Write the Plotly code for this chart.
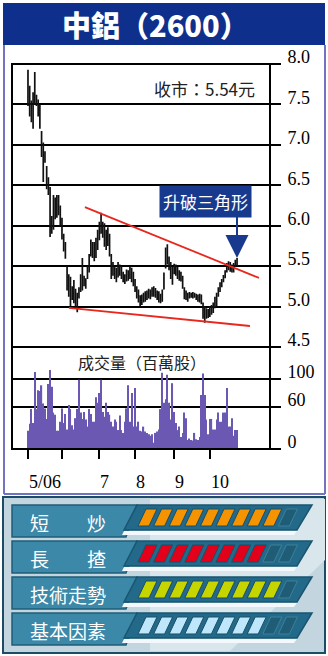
import plotly.graph_objects as go

W, H = 328, 656

# ---------------- data ----------------
title = "中鋁（2600）"
close_note = "收市：5.54元"
vol_note = "成交量（百萬股）"
callout = "升破三角形"

opens = [7.80,7.60,7.45,7.35,7.60,7.60,7.55,7.40,7.10,6.95,
         6.88,6.70,6.55,6.40,5.95,6.00,6.30,6.20,6.30,6.20,
         6.05,5.88,5.75,5.45,5.30,5.20,5.12,5.18,5.20,5.02,
         5.12,5.22,5.50,5.30,5.30,5.36,5.45,5.65,5.75,5.72,
         5.65,5.78,5.85,5.95,6.00,5.95,5.78,5.88,5.85,5.62,
         5.45,5.48,5.38,5.40,5.48,5.45,5.40,5.36,5.34,5.42,
         5.38,5.45,5.40,5.30,5.22,5.15,5.10,5.05,5.12,5.10,
         5.15,5.12,5.18,5.15,5.22,5.18,5.15,5.14,5.08,5.10,
         5.22,5.50,5.68,5.60,5.52,5.38,5.42,5.48,5.46,5.42,
         5.36,5.36,5.22,5.12,5.15,5.12,5.14,5.15,5.13,5.14,
         5.12,5.08,5.12,5.02,4.92,4.88,4.95,4.90,4.94,4.96,
         5.00,5.06,5.14,5.20,5.26,5.32,5.38,5.44,5.50,5.48,
         5.46,5.48,5.52,5.55]
highs = [7.93,7.73,7.55,7.65,7.90,7.62,7.56,7.50,7.17,7.03,
         6.92,6.74,6.60,6.48,6.12,6.38,6.35,6.38,6.38,6.25,
         6.10,5.90,5.80,5.50,5.40,5.37,5.25,5.33,5.22,5.17,
         5.24,5.40,5.60,5.38,5.35,5.50,5.65,5.83,5.80,5.80,
         5.85,5.95,6.05,6.16,6.05,6.03,5.95,5.98,5.90,5.65,
         5.55,5.50,5.48,5.55,5.52,5.50,5.43,5.40,5.46,5.45,
         5.50,5.48,5.43,5.34,5.25,5.21,5.14,5.15,5.17,5.19,
         5.20,5.22,5.21,5.24,5.25,5.23,5.20,5.19,5.16,5.21,
         5.42,5.73,5.77,5.62,5.55,5.49,5.53,5.52,5.49,5.45,
         5.43,5.38,5.24,5.20,5.17,5.18,5.17,5.18,5.17,5.16,
         5.15,5.16,5.15,5.05,5.00,4.98,4.97,5.00,5.02,5.05,
         5.12,5.17,5.24,5.30,5.34,5.39,5.45,5.54,5.56,5.55,
         5.52,5.54,5.58,5.60]
lows = [7.48,7.35,7.28,7.20,7.50,7.48,7.35,7.20,6.85,6.54,
        6.78,6.45,6.38,5.86,5.90,5.95,6.08,6.10,6.13,6.00,
        5.83,5.68,5.59,5.20,5.12,5.00,5.08,5.04,5.00,4.93,
        5.10,5.18,5.20,5.25,5.22,5.34,5.42,5.62,5.60,5.56,
        5.60,5.70,5.82,5.90,5.85,5.74,5.70,5.75,5.62,5.34,
        5.38,5.34,5.30,5.36,5.38,5.34,5.30,5.28,5.31,5.32,
        5.34,5.30,5.25,5.18,5.10,5.05,5.00,5.02,5.05,5.06,
        5.08,5.10,5.09,5.12,5.12,5.11,5.08,5.05,5.04,5.06,
        5.21,5.47,5.52,5.45,5.34,5.27,5.40,5.38,5.34,5.32,
        5.31,5.22,5.09,5.08,5.06,5.10,5.11,5.10,5.11,5.08,
        5.06,5.05,5.03,4.85,4.80,4.85,4.86,4.87,4.90,4.92,
        4.98,5.00,5.12,5.18,5.24,5.30,5.35,5.42,5.45,5.43,
        5.42,5.42,5.49,5.50]
closes = [7.62,7.45,7.40,7.55,7.62,7.55,7.40,7.28,6.92,6.90,
          6.86,6.55,6.45,5.95,6.05,6.30,6.20,6.30,6.22,6.08,
          5.90,5.75,5.65,5.30,5.18,5.10,5.20,5.28,5.05,5.10,
          5.20,5.32,5.30,5.30,5.28,5.45,5.60,5.75,5.70,5.62,
          5.80,5.85,5.95,6.02,5.90,5.80,5.88,5.85,5.68,5.45,
          5.50,5.40,5.42,5.48,5.42,5.38,5.35,5.33,5.40,5.38,
          5.45,5.35,5.30,5.22,5.12,5.10,5.05,5.12,5.10,5.15,
          5.12,5.18,5.15,5.20,5.18,5.15,5.12,5.10,5.12,5.18,
          5.38,5.65,5.60,5.50,5.40,5.42,5.48,5.45,5.40,5.35,
          5.38,5.25,5.12,5.15,5.12,5.14,5.15,5.13,5.14,5.12,
          5.10,5.12,5.08,4.92,4.88,4.95,4.90,4.95,4.98,5.02,
          5.08,5.12,5.20,5.26,5.30,5.36,5.42,5.50,5.48,5.46,
          5.50,5.52,5.55,5.54]
volumes = [26,36,57,37,110,57,84,83,91,65,
           58,43,93,113,89,52,49,26,26,39,
           58,37,50,28,63,57,34,28,44,57,
           99,52,43,53,42,32,57,50,39,39,
           74,66,80,99,53,46,66,53,49,39,
           32,42,39,27,48,27,23,39,58,91,
           39,80,32,87,32,39,26,25,32,25,
           23,21,19,21,9,23,25,28,57,109,
           66,71,106,66,42,94,53,37,27,32,
           17,23,52,44,13,15,13,12,23,14,
           13,17,77,108,77,42,21,43,43,28,
           28,42,52,39,39,52,52,87,32,32,
           44,19,27,27]
days = list(range(len(closes)))

# month boundaries (trading-day index) and their labels
month_ticks = [0, 20, 42, 63, 86, 107]
month_labels = ["5/06", "", "7", "8", "9", "10"]

price_ticks = [4.5, 5.0, 5.5, 6.0, 6.5, 7.0, 7.5, 8.0]
vol_ticks = [0, 60, 100]

# triangle trendlines (day index, price)
upper_x = [33.5, 135.9]
upper_y = [6.23, 5.355]
lower_x = [24.1, 130.6]
lower_y = [4.985, 4.76]

# rating gauges
gauge_labels = ["短　　炒", "長　　揸", "技術走勢", "基本因素"]
gauge_scores = [9, 8, 9, 8]
gauge_colors = ["#f59300", "#e3001b", "#c6d400", "#bfe7fb"]
gauge_max = 10

# ---------------- helpers ----------------
def px(x):
    return x / W

def py(y):
    return 1 - y / H

def path(pts):
    return "M " + " L ".join(f"{px(x):.5f},{py(y):.5f}" for x, y in pts) + " Z"

PL, PR = 12, 270          # plot area left/right in px
PT, PM, PB = 64, 347, 449  # price top, divider, volume bottom
x0_idx = -9.4
x1_idx = 142.4

fig = go.Figure()

fig.add_trace(go.Bar(
    x=days, y=volumes, xaxis="x", yaxis="y2",
    marker=dict(color="#6a58b2", line=dict(width=0)),
    showlegend=False, hoverinfo="skip"))

fig.add_trace(go.Ohlc(
    x=days, open=opens, high=highs, low=lows, close=closes,
    xaxis="x", yaxis="y",
    increasing=dict(line=dict(color="#111111", width=1.7)),
    decreasing=dict(line=dict(color="#111111", width=1.7)),
    tickwidth=0.3, showlegend=False, hoverinfo="skip"))

for xs, ys in [(upper_x, upper_y), (lower_x, lower_y)]:
    fig.add_trace(go.Scatter(x=xs, y=ys, mode="lines", xaxis="x", yaxis="y",
                             line=dict(color="#e8271e", width=1.8),
                             showlegend=False, hoverinfo="skip"))

axis_font = dict(family="Liberation Serif", size=18, color="#000")

fig.update_layout(
    template="none",
    width=W, height=H, margin=dict(l=0, r=0, t=0, b=0, pad=0, autoexpand=False),
    paper_bgcolor="white", plot_bgcolor="white",
    bargap=0.3, showlegend=False,
    xaxis=dict(domain=[px(PL), px(PR)], range=[x0_idx, x1_idx], anchor="y2",
               showgrid=False, zeroline=False, rangeslider=dict(visible=False),
               tickmode="array", tickvals=month_ticks, ticktext=[""] * len(month_ticks),
               ticks="outside", ticklen=9, tickwidth=2, tickcolor="#000",
               showline=False, automargin=False),
    yaxis=dict(domain=[py(PM), py(PT)], range=[4.5, 8.0], side="right", anchor="x",
               tickmode="array", tickvals=price_ticks,
               ticktext=[f"{v:.1f}" for v in price_ticks],
               ticks="outside", ticklen=10, tickwidth=2, tickcolor="#000",
               showgrid=True, gridcolor="#000", gridwidth=2, zeroline=False,
               tickfont=axis_font, ticklabelshift=-7, ticklabelstandoff=3, automargin=False),
    yaxis2=dict(domain=[py(PB), py(PM)], range=[0, (PB - PM) / 0.7], side="right", anchor="x",
                tickmode="array", tickvals=vol_ticks, ticktext=[str(v) for v in vol_ticks],
                ticks="outside", ticklen=10, tickwidth=2, tickcolor="#000",
                showgrid=True, gridcolor="#000", gridwidth=2, zeroline=False,
                tickfont=axis_font, ticklabelshift=-7, ticklabelstandoff=3, automargin=False),
)

shapes = []
ann = []

# page frame (light purple) and title bar
shapes.append(dict(type="rect", xref="paper", yref="paper", x0=px(3), x1=px(325), y0=py(45), y1=py(3),
                   fillcolor="#0f2f8c", line=dict(width=0), layer="below"))
for (xa, ya, xb, yb) in [(4, 45, 4, 494), (325, 45, 325, 494), (4, 494, 325, 494)]:
    shapes.append(dict(type="line", xref="paper", yref="paper", x0=px(xa), y0=py(ya), x1=px(xb), y1=py(yb),
                       line=dict(color="#7373c4", width=2)))

# chart frame
shapes.append(dict(type="rect", xref="paper", yref="paper", x0=px(PL), x1=px(PR), y0=py(PB), y1=py(PT),
                   line=dict(color="#000", width=2)))
shapes.append(dict(type="line", xref="paper", yref="paper", x0=px(PL), x1=px(PR + 10), y0=py(PM), y1=py(PM),
                   line=dict(color="#000", width=2)))

# bottom panel
shapes.append(dict(type="rect", xref="paper", yref="paper", x0=px(3), x1=px(325), y0=py(653), y1=py(497),
                   fillcolor="#c3d5df", line=dict(color="#1b4d66", width=2), layer="below"))
shapes.append(dict(type="path", xref="paper", yref="paper",
                   path=path([(150, 499), (325, 499), (325, 560), (230, 651), (150, 651)]),
                   fillcolor="#d9e6ec", line=dict(width=0), layer="below"))

row_tops = [505, 541, 577, 613]
for r, top in enumerate(row_tops):
    # label box
    shapes.append(dict(type="path", xref="paper", yref="paper",
                       path=path([(12, top), (137, top), (126, top + 32), (12, top + 32)]),
                       fillcolor="#3b88a8", line=dict(color="#1e5d78", width=1.5)))
    # gauge band
    shapes.append(dict(type="path", xref="paper", yref="paper",
                       path=path([(137, top), (312, top), (297, top + 25), (124, top + 25)]),
                       fillcolor="#23698a", line=dict(color="#1a5570", width=1.5)))
    shapes.append(dict(type="path", xref="paper", yref="paper",
                       path=path([(124, top + 26), (297, top + 26), (294, top + 30), (122, top + 30)]),
                       fillcolor="#f2f8fb", line=dict(width=0)))
    for k in range(gauge_max):
        xl = 146 + 15.6 * k
        pts = [(xl, top + 4), (xl + 11, top + 4), (xl + 3, top + 21), (xl - 8, top + 21)]
        filled = k < gauge_scores[r]
        shapes.append(dict(type="path", xref="paper", yref="paper", path=path(pts),
                           fillcolor=gauge_colors[r] if filled else "#1f5c76",
                           line=dict(color="#1a4f66" if filled else "#3f8099", width=1)))
    ann.append(dict(xref="paper", yref="paper", x=px(68), y=py(top + 17), text=gauge_labels[r],
                    showarrow=False, xanchor="center", yanchor="middle",
                    font=dict(family="Noto Sans CJK TC", size=19, color="white")))

# texts
ann.append(dict(xref="paper", yref="paper", x=px(155), y=py(24), text=title, showarrow=False,
                xanchor="center", yanchor="middle",
                font=dict(family="Noto Sans CJK TC", size=29, color="white", weight=900)))
ann.append(dict(xref="paper", yref="paper", x=px(204), y=py(88), text=close_note, showarrow=False,
                xanchor="center", yanchor="middle",
                font=dict(family="Noto Sans CJK TC", size=17, color="#222")))
ann.append(dict(xref="paper", yref="paper", x=px(142), y=py(362), text=vol_note, showarrow=False,
                xanchor="center", yanchor="middle",
                font=dict(family="Noto Sans CJK TC", size=16, color="#222")))
ann.append(dict(xref="paper", yref="paper", x=px(205), y=py(202), text=callout, showarrow=False,
                xanchor="center", yanchor="middle", bgcolor="#173a8e", borderpad=3,
                font=dict(family="Noto Sans CJK TC", size=17, color="white")))
ann.append(dict(xref="paper", yref="paper", x=px(237), y=py(258), ax=0, ay=-45, text="",
                showarrow=True, arrowhead=2, arrowsize=2.3, arrowwidth=2, arrowcolor="#173a8e"))

for t, lab in zip(month_ticks, month_labels):
    if lab:
        ann.append(dict(xref="x", yref="paper", x=t, y=py(482), text=lab, showarrow=False,
                        xanchor="left", yanchor="middle", xshift=-1, font=axis_font))

fig.update_layout(shapes=shapes, annotations=ann)
fig.write_html("out.html")
